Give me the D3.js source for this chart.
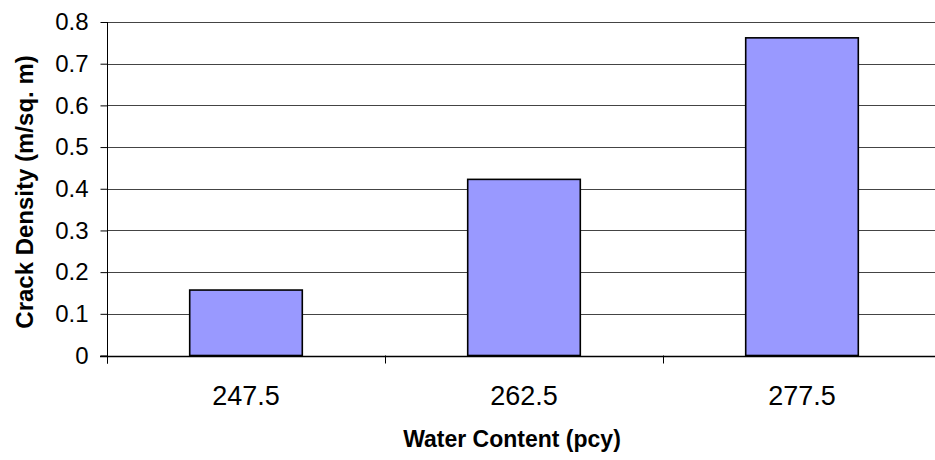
<!DOCTYPE html>
<html>
<head>
<meta charset="utf-8">
<script src="https://cdn.jsdelivr.net/npm/d3@7"></script>
<style>
  body { margin: 0; background: #fff; }
  svg { display: block; font-family: "Liberation Sans", Arial, sans-serif; }
</style>
</head>
<body>
<div id="chart"></div>
<script>
const categories = ["247.5", "262.5", "277.5"];
const crackDensity = [0.157, 0.4225, 0.762];
const yTicks = [0, 0.1, 0.2, 0.3, 0.4, 0.5, 0.6, 0.7, 0.8];
const xTitle = "Water Content (pcy)";
const yTitle = "Crack Density (m/sq. m)";

/* set the dimensions and margins of the graph */
var W = 935, H = 460;
var margin = { top: 22, right: 0, bottom: 104.5, left: 107 },
    width = 834,
    height = H - margin.top - margin.bottom;

var svg = d3.select("#chart")
    .append("svg")
    .attr("width", W)
    .attr("height", H)
    .append("g")
    .attr("transform", "translate(" + margin.left + "," + margin.top + ")");

/* scales */
var x = d3.scaleBand()
    .range([0, width])
    .domain(categories)
    .padding(0);

var y = d3.scaleLinear()
    .range([height, 0])
    .domain([0, 0.8]);

/* gridlines */
svg.append("g")
    .selectAll("line")
    .data(yTicks)
    .enter()
    .append("line")
    .attr("x1", 0)
    .attr("x2", width)
    .attr("y1", function(d) { return Math.round(y(d)) + 0.5; })
    .attr("y2", function(d) { return Math.round(y(d)) + 0.5; })
    .style("stroke", "#444")
    .style("stroke-width", 1);

/* y axis */
var yAxis = svg.append("g")
    .attr("transform", "translate(0.5,0)")
    .call(d3.axisLeft(y)
        .tickValues(yTicks)
        .tickSize(7)
        .tickPadding(12)
        .tickFormat(function(d) { return d === 0 ? "0" : d3.format(".1f")(d); }));
yAxis.select(".domain").remove();
yAxis.selectAll(".tick line").style("stroke", "#000");
yAxis.selectAll(".tick text")
    .style("font-size", "24px")
    .style("fill", "#000");

/* bars */
var barW = x.bandwidth() * 0.405;
svg.selectAll(".bar")
    .data(crackDensity)
    .enter()
    .append("rect")
    .attr("class", "bar")
    .attr("x", function(d, i) { return x(categories[i]) + (x.bandwidth() - barW) / 2; })
    .attr("y", function(d) { return y(d); })
    .attr("width", barW)
    .attr("height", function(d) { return y(0) - y(d); })
    .style("fill", "#9999FF")
    .style("stroke", "#000")
    .style("stroke-width", 1.6);

/* axis lines */
svg.append("line")
    .attr("x1", 0.5).attr("x2", 0.5)
    .attr("y1", 0).attr("y2", height + 8)
    .style("stroke", "#000");
svg.append("line")
    .attr("x1", -7).attr("x2", width)
    .attr("y1", Math.round(y(0)) + 0.5).attr("y2", Math.round(y(0)) + 0.5)
    .style("stroke", "#000")
    .style("stroke-width", 1.3);

/* category boundary ticks */
var bounds = categories.map(function(c) { return x(c); }).concat([width]);
svg.append("g")
    .selectAll("line")
    .data(bounds)
    .enter()
    .append("line")
    .attr("x1", function(d) { return Math.round(d) + 0.5; })
    .attr("x2", function(d) { return Math.round(d) + 0.5; })
    .attr("y1", y(0))
    .attr("y2", y(0) + 8)
    .style("stroke", "#000");

/* x labels */
svg.append("g")
    .selectAll("text")
    .data(categories)
    .enter()
    .append("text")
    .attr("x", function(d) { return x(d) + x.bandwidth() / 2; })
    .attr("y", 383)
    .attr("text-anchor", "middle")
    .style("font-size", "27px")
    .text(String);

/* axis titles */
svg.append("text")
    .attr("x", 512 - margin.left)
    .attr("y", 447 - margin.top)
    .attr("text-anchor", "middle")
    .style("font-size", "23px")
    .style("font-weight", "bold")
    .text(xTitle);

svg.append("text")
    .attr("transform", "translate(" + (33 - margin.left) + "," + (192 - margin.top) + ") rotate(-90)")
    .attr("text-anchor", "middle")
    .style("font-size", "24px")
    .style("font-weight", "bold")
    .text(yTitle);
</script>
</body>
</html>
